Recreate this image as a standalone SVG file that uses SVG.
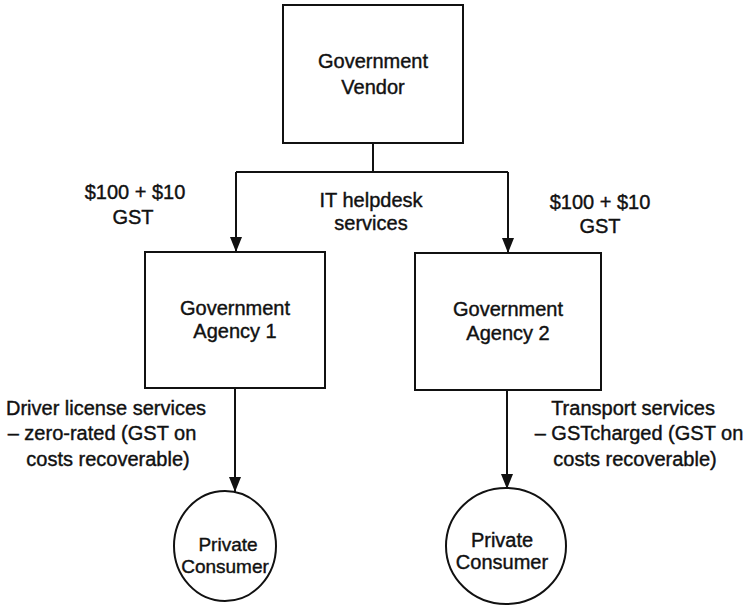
<svg xmlns="http://www.w3.org/2000/svg" width="746" height="610" viewBox="0 0 746 610">
  <defs>
    <marker id="arrow" viewBox="0 0 15 12" refX="15" refY="6" markerWidth="15" markerHeight="12" markerUnits="userSpaceOnUse" orient="auto">
      <path d="M0,0 L15,6 L0,12 Z" fill="#111"/>
    </marker>
  </defs>
  <style>
    .box { fill: #fff; stroke: #111; stroke-width: 2; }
    .wire { fill: none; stroke: #111; stroke-width: 2; }
    text { font-family: "Liberation Sans", Arial, sans-serif; font-size: 20px; fill: #111; stroke: #111; stroke-width: 0.4; text-anchor: middle; }
    .small { font-size: 19px; }
  </style>
  <rect width="746" height="610" fill="#fff"/>

  <!-- flows between parties -->
  <g id="connectors">
    <path class="wire" d="M373,143 V172"/>
    <path class="wire" d="M236,172 H508"/>
    <path class="wire" d="M236,172 V252" marker-end="url(#arrow)"/>
    <path class="wire" d="M508,172 V253" marker-end="url(#arrow)"/>
    <path class="wire" d="M235,388 V492" marker-end="url(#arrow)"/>
    <path class="wire" d="M507,390 V489" marker-end="url(#arrow)"/>
  </g>

  <g id="vendor">
    <rect class="box" x="283" y="5" width="180" height="138"/>
    <text x="373" y="68">Government</text>
    <text x="373" y="94">Vendor</text>
  </g>

  <g id="agency1">
    <rect class="box" x="145" y="252" width="180" height="136"/>
    <text x="235" y="315">Government</text>
    <text x="235" y="338">Agency 1</text>
  </g>

  <g id="agency2">
    <rect class="box" x="415" y="253" width="186" height="137"/>
    <text x="508" y="316">Government</text>
    <text x="508" y="340">Agency 2</text>
  </g>

  <g id="consumer1">
    <ellipse class="box" cx="225" cy="546" rx="51" ry="55"/>
    <text class="small" x="228" y="551">Private</text>
    <text class="small" x="225" y="573">Consumer</text>
  </g>

  <g id="consumer2">
    <ellipse class="box" cx="506" cy="546" rx="60" ry="58"/>
    <text x="502" y="547">Private</text>
    <text x="502" y="569">Consumer</text>
  </g>

  <!-- flow labels -->
  <g id="labels">
    <text x="135" y="199">$100 + $10</text>
    <text x="133" y="224">GST</text>
    <text x="600" y="209">$100 + $10</text>
    <text x="600" y="233">GST</text>
    <text x="371" y="207">IT helpdesk</text>
    <text x="371" y="230">services</text>
    <text x="106" y="415">Driver license services</text>
    <text x="102" y="440">– zero-rated (GST on</text>
    <text x="108" y="466">costs recoverable)</text>
    <text x="633" y="415">Transport services</text>
    <text x="639" y="440">– GSTcharged (GST on</text>
    <text x="635" y="466">costs recoverable)</text>
  </g>
</svg>
